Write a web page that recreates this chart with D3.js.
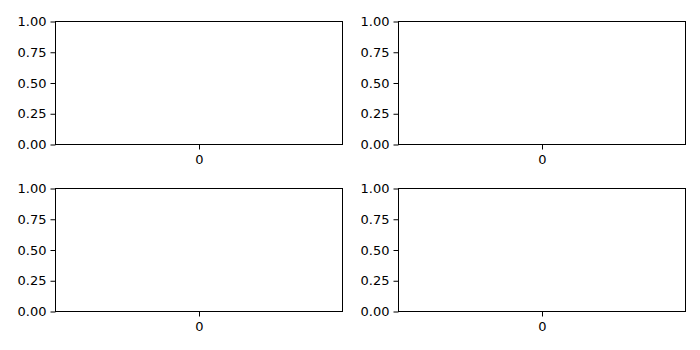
<!DOCTYPE html>
<html>
<head>
<meta charset="utf-8">
<script src="https://cdn.jsdelivr.net/npm/d3@7"></script>
<style>
  body { margin: 0; background: #fff; }
  .tick text { font-family: "DejaVu Sans", sans-serif; font-size: 13px; fill: #000; }
  .tick line { stroke: #000; stroke-width: 1; }
</style>
</head>
<body>
<div id="chart"></div>
<script>
var categories = ["0"];
var yTicks = [0, 0.25, 0.5, 0.75, 1];
var yTickLabels = ["0.00", "0.25", "0.50", "0.75", "1.00"];

var WIDTH = 700, HEIGHT = 350;

// subplot boxes (pixel edges): col lefts/rights, row tops/bottoms
var cols = [[55, 342], [398, 685]];
var rows = [[21, 144], [188, 311]];

var svg = d3.select("#chart").append("svg")
    .attr("width", WIDTH)
    .attr("height", HEIGHT);

rows.forEach(function (r) {
    cols.forEach(function (c) {
        var x0 = c[0] + 0.5, x1 = c[1] + 0.5,
            y0 = r[0] + 0.5, y1 = r[1] + 0.5;

        var x = d3.scalePoint().domain(categories).range([x0, x1]).padding(0.5);
        var y = d3.scaleLinear().domain([0, 1]).range([y1, y0]);

        var g = svg.append("g");

        g.append("g")
            .attr("transform", "translate(" + x0 + ",0)")
            .call(d3.axisLeft(y)
                .tickValues(yTicks)
                .tickFormat(function (d, i) { return yTickLabels[i]; })
                .tickSize(5)
                .tickPadding(4))
            .call(function (a) { a.select(".domain").remove(); });

        g.append("g")
            .attr("transform", "translate(0," + y1 + ")")
            .call(d3.axisBottom(x)
                .tickSize(5)
                .tickPadding(5))
            .call(function (a) { a.select(".domain").remove(); });

        g.append("rect")
            .attr("x", x0).attr("y", y0)
            .attr("width", x1 - x0).attr("height", y1 - y0)
            .attr("fill", "none")
            .attr("stroke", "#000")
            .attr("stroke-width", 1);
    });
});
</script>
</body>
</html>
